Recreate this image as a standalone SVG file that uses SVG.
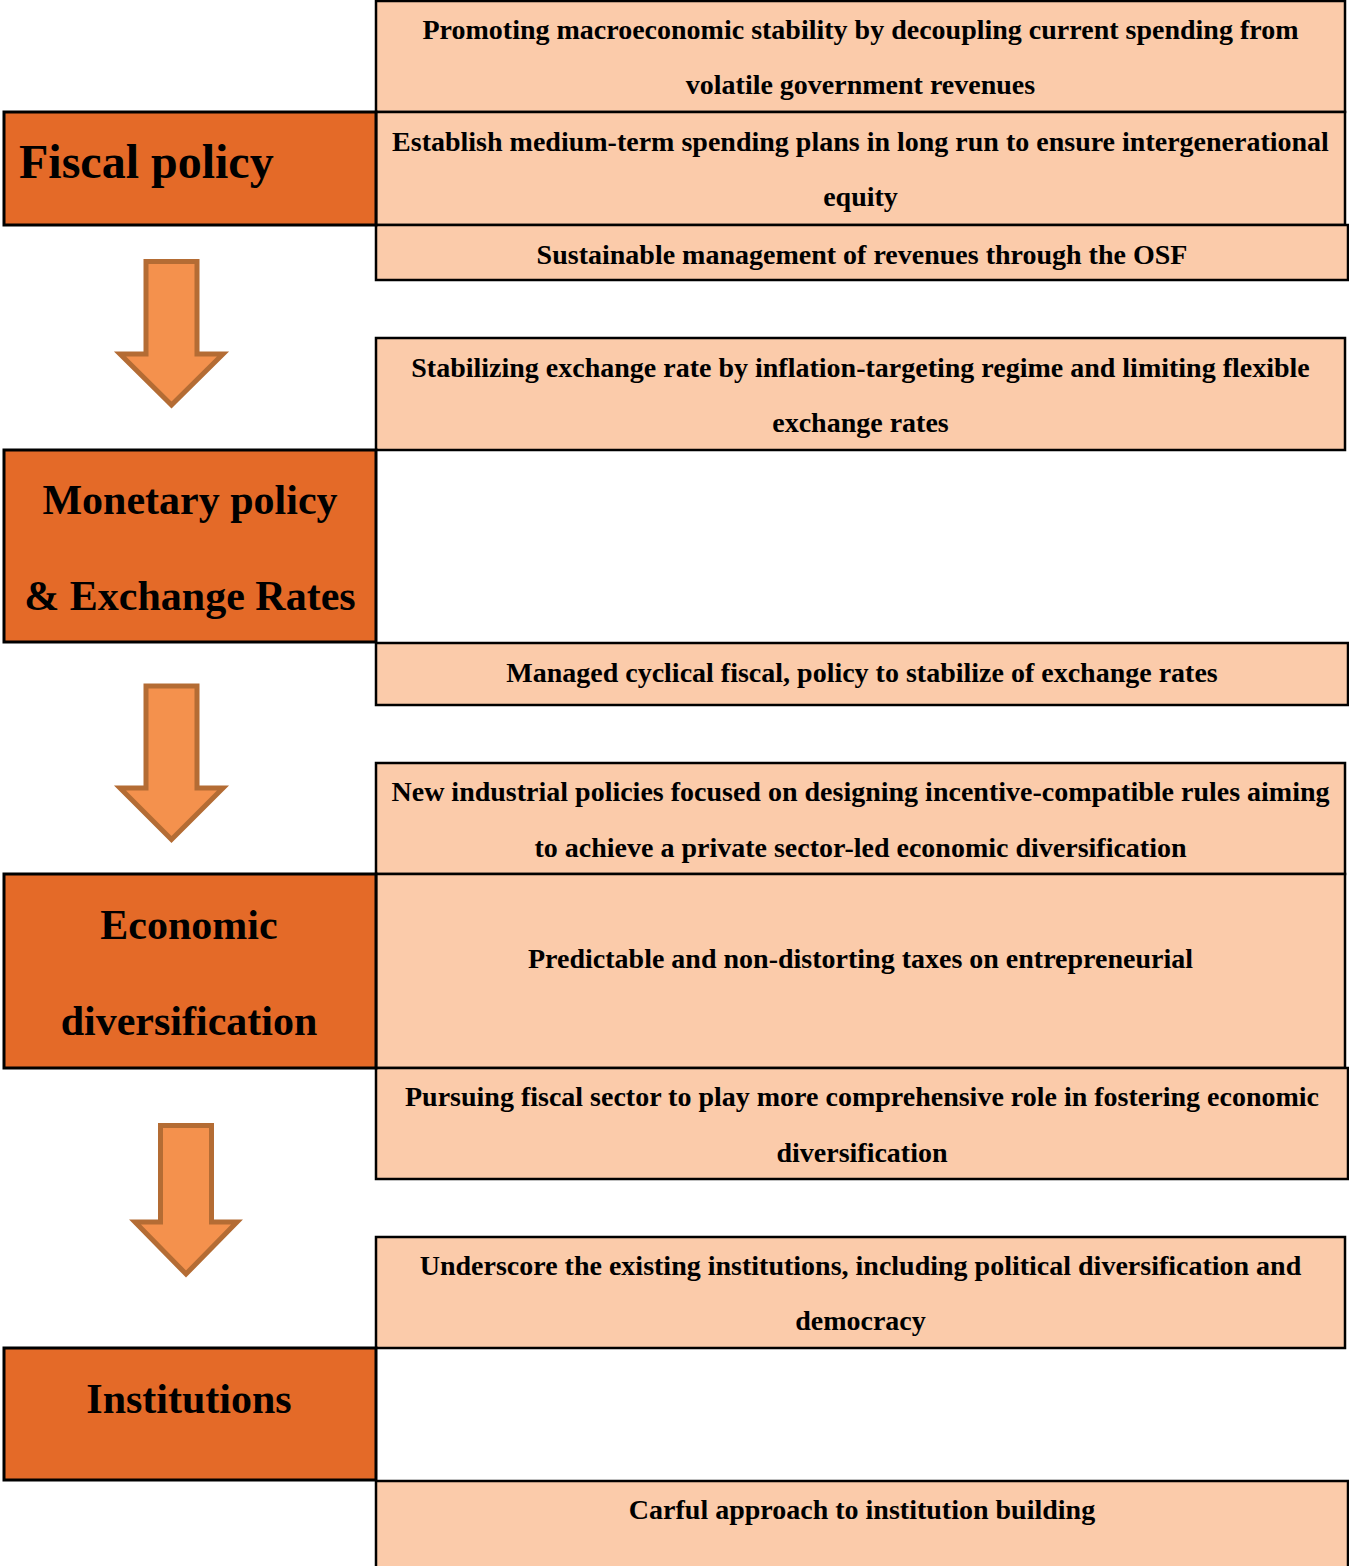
<svg xmlns="http://www.w3.org/2000/svg" width="1349" height="1566" viewBox="0 0 1349 1566">
  <style>
    .topic { fill: #E46A28; stroke: #000; stroke-width: 3; }
    .item { fill: #FBCBAA; stroke: #000; stroke-width: 2.5; }
    .arrow { fill: #F4914D; stroke: #B46C34; stroke-width: 5; stroke-linejoin: miter; }
    text { font-family: "Liberation Serif", "Times New Roman", serif; font-weight: bold; fill: #000; }
    .t-big { font-size: 42px; text-anchor: middle; }
    .t-item { font-size: 28px; text-anchor: middle; }
  </style>
  <rect width="1349" height="1566" fill="#fff"/>

  <!-- right-hand item boxes -->
  <g id="item-1"><rect class="item" x="376" y="1" width="969" height="111"/>
    <text class="t-item" x="860.5" y="39">Promoting macroeconomic stability by decoupling current spending from</text>
    <text class="t-item" x="860.5" y="94">volatile government revenues</text></g>
  <g id="item-2"><rect class="item" x="376" y="112" width="969" height="113"/>
    <text class="t-item" x="860.5" y="151">Establish medium-term spending plans in long run to ensure intergenerational</text>
    <text class="t-item" x="860.5" y="206">equity</text></g>
  <g id="item-3"><rect class="item" x="376" y="225" width="972" height="55"/>
    <text class="t-item" x="862" y="264">Sustainable management of revenues through the OSF</text></g>
  <g id="item-4"><rect class="item" x="376" y="338" width="969" height="112"/>
    <text class="t-item" x="860.5" y="377">Stabilizing exchange rate by inflation-targeting regime and limiting flexible</text>
    <text class="t-item" x="860.5" y="432">exchange rates</text></g>
  <g id="item-5"><rect class="item" x="376" y="643" width="972" height="62"/>
    <text class="t-item" x="862" y="682">Managed cyclical fiscal, policy to stabilize of exchange rates</text></g>
  <g id="item-6"><rect class="item" x="376" y="763" width="969" height="111"/>
    <text class="t-item" x="860.5" y="801">New industrial policies focused on designing incentive-compatible rules aiming</text>
    <text class="t-item" x="860.5" y="857">to achieve a private sector-led economic diversification</text></g>
  <g id="item-7"><rect class="item" x="376" y="874" width="969" height="194"/>
    <text class="t-item" x="860.5" y="968">Predictable and non-distorting taxes on entrepreneurial</text></g>
  <g id="item-8"><rect class="item" x="376" y="1068" width="972" height="111"/>
    <text class="t-item" x="862" y="1106">Pursuing fiscal sector to play more comprehensive role in fostering economic</text>
    <text class="t-item" x="862" y="1162">diversification</text></g>
  <g id="item-9"><rect class="item" x="376" y="1237" width="969" height="111"/>
    <text class="t-item" x="860.5" y="1275">Underscore the existing institutions, including political diversification and</text>
    <text class="t-item" x="860.5" y="1330">democracy</text></g>
  <g id="item-10"><rect class="item" x="376" y="1481" width="972" height="90"/>
    <text class="t-item" x="862" y="1519">Carful approach to institution building</text></g>

  <!-- left-hand topic boxes -->
  <g id="topic-fiscal"><rect class="topic" x="4" y="112" width="372" height="113"/>
    <text x="19" y="178" style="font-size:48px">Fiscal policy</text></g>
  <g id="topic-monetary"><rect class="topic" x="4" y="450" width="372" height="192"/>
    <text class="t-big" x="190" y="514">Monetary policy</text>
    <text class="t-big" x="190" y="610">&amp; Exchange Rates</text></g>
  <g id="topic-diversification"><rect class="topic" x="4" y="874" width="372" height="194"/>
    <text class="t-big" x="189" y="939">Economic</text>
    <text class="t-big" x="189" y="1035">diversification</text></g>
  <g id="topic-institutions"><rect class="topic" x="4" y="1348" width="372" height="132"/>
    <text class="t-big" x="189" y="1413">Institutions</text></g>

  <!-- block arrows between topics -->
  <g id="connectors">
    <polygon class="arrow" points="146,261.5 197,261.5 197,354 223,354 171.5,405 120,354 146,354"/>
    <polygon class="arrow" points="146,686 197,686 197,788 223,788 171.5,839.5 120,788 146,788"/>
    <polygon class="arrow" points="160.5,1125.5 211.5,1125.5 211.5,1222 237,1222 186,1274 135,1222 160.5,1222"/>
  </g>
</svg>
